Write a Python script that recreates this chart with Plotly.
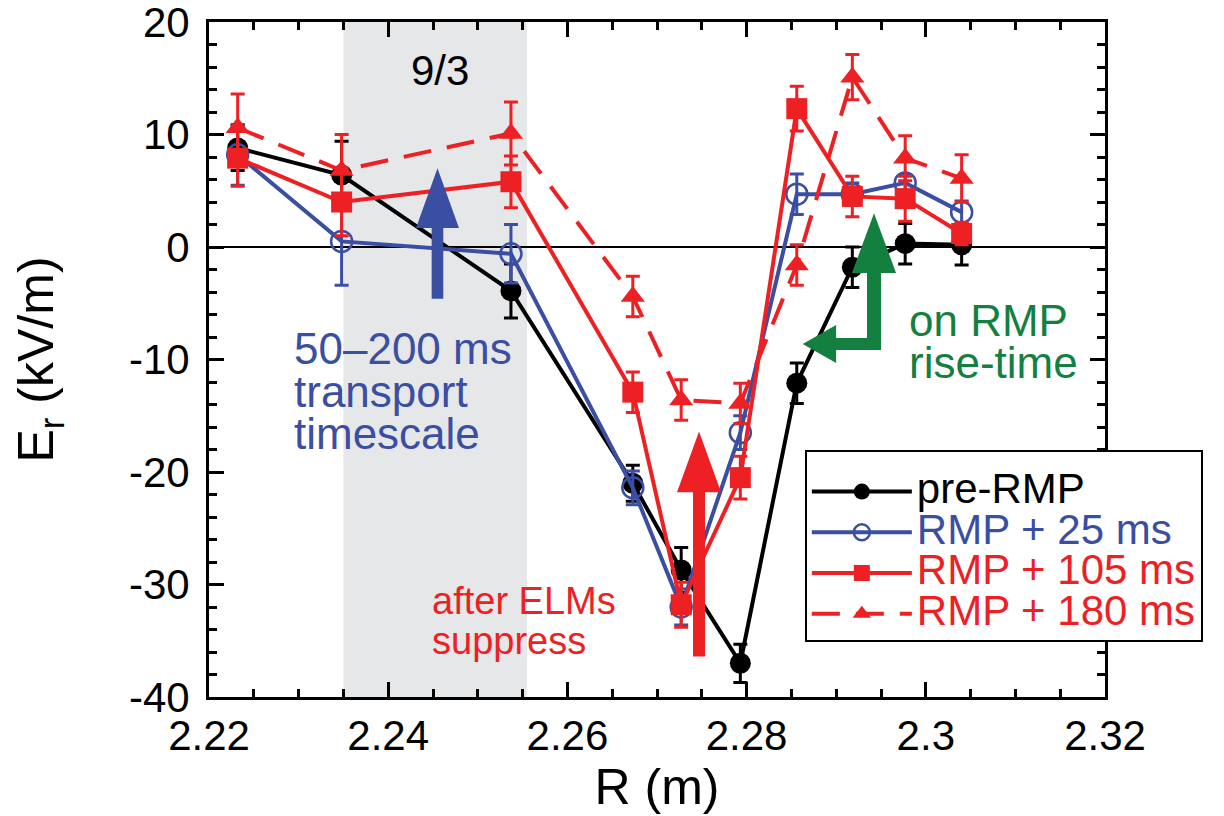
import plotly.graph_objects as go

# ---- data ----
R = [2.2232, 2.2348, 2.2537, 2.2673, 2.2727, 2.2793, 2.2856, 2.2918, 2.2977, 2.3040]
pre_rmp = [8.8, 6.4, -3.9, -21.0, -28.7, -37.0, -12.1, -1.8, 0.3, 0.2]
pre_rmp_err = [2.0, 3.0, 2.4, 1.6, 2.0, 1.7, 1.8, 1.8, 1.8, 1.8]
rmp_25 = [8.2, 0.5, -0.6, -21.4, -32.0, -16.5, 4.7, 4.7, 5.7, 3.1]
rmp_25_err = [2.7, 3.9, 2.6, 1.5, 1.6, 1.5, 1.8, 1.0, 0.7, 1.0]
rmp_105 = [7.9, 4.0, 5.8, -12.9, -31.8, -20.5, 12.3, 4.5, 4.3, 1.2]
rmp_105_err = [2.5, 3.0, 2.3, 1.8, 2.0, 1.9, 2.0, 1.8, 2.0, 1.0]
rmp_180 = [10.6, 6.8, 10.1, -4.4, -13.6, -13.9, -1.6, 15.1, 7.9, 6.1]
rmp_180_err = [3.0, 3.2, 2.8, 1.8, 1.8, 1.8, 1.8, 2.0, 2.0, 2.1]

x_ticks = [2.22, 2.24, 2.26, 2.28, 2.30, 2.32]
x_ticktext = ["2.22", "2.24", "2.26", "2.28", "2.3", "2.32"]
y_ticks = [-40, -30, -20, -10, 0, 10, 20]
y_ticktext = ["-40", "-30", "-20", "-10", "0", "10", "20"]

BLACK = "#000000"
BLUE = "#3a4ea2"
RED = "#ed2024"
GREEN = "#138040"
GRAY = "#e6e7e8"
FONT = "Liberation Sans, Arial, sans-serif"
LEG_SIZE = 42

fig = go.Figure()

def add_series(y, err, name, color, symbol, dash="solid", open_marker=False):
    marker = dict(symbol=symbol, size=21, color=color, line=dict(width=0, color=color))
    if open_marker:
        marker = dict(symbol="circle-open", size=21, color=color, line=dict(width=2.5, color=color))
    fig.add_trace(go.Scatter(
        x=R, y=y, mode="lines+markers",
        name=f'<span style="color:{color};font-size:{LEG_SIZE}px">{name}</span>',
        line=dict(color=color, width=4, dash=dash),
        marker=marker,
        error_y=dict(type="data", array=err, visible=True, color=color, thickness=3, width=7),
    ))

add_series(pre_rmp, pre_rmp_err, "pre-RMP", BLACK, "circle")
add_series(rmp_25, rmp_25_err, "RMP + 25 ms", BLUE, "circle-open", open_marker=True)
add_series(rmp_105, rmp_105_err, "RMP + 105 ms", RED, "square")
add_series(rmp_180, rmp_180_err, "RMP + 180 ms", RED, "triangle-up", dash="28px,16px")

# shaded 9/3 region
fig.add_shape(type="rect", xref="x", yref="paper", x0=2.235, x1=2.2555, y0=0, y1=1,
              fillcolor=GRAY, line=dict(width=0), layer="below")

def up_arrow(xc, tip, base, bottom, hw, sw, color):
    p = (f"M{xc},{tip} L{xc+hw},{base} L{xc+sw},{base} L{xc+sw},{bottom} "
         f"L{xc-sw},{bottom} L{xc-sw},{base} L{xc-hw},{base} Z")
    fig.add_shape(type="path", path=p, xref="x", yref="y", fillcolor=color, line=dict(width=0))

up_arrow(2.2455, 7.0, 1.7, -4.6, 0.0024, 0.00065, BLUE)
up_arrow(2.27469, -16.4, -21.8, -36.4, 0.00246, 0.00067, RED)

# green L-shaped arrow
gx, gsw, ghw = 2.29422, 0.00078, 0.00246
hy, hth, hbase, htip, hhh = -8.62, 0.53, 2.28999, 2.28626, 1.69
gp = (f"M{gx},3.0 L{gx+ghw},-2.3 L{gx+gsw},-2.3 L{gx+gsw},{hy-hth} "
      f"L{hbase},{hy-hth} L{hbase},{hy-hhh} L{htip},{hy} L{hbase},{hy+hhh} "
      f"L{hbase},{hy+hth} L{gx-gsw},{hy+hth} L{gx-gsw},-2.3 L{gx-ghw},-2.3 Z")
fig.add_shape(type="path", path=gp, xref="x", yref="y", fillcolor=GREEN, line=dict(width=0))

def label(x, y, text, color, size, anchor="left"):
    fig.add_annotation(x=x, y=y, xref="x", yref="y", text=text, showarrow=False,
                       xanchor=anchor, yanchor="middle",
                       font=dict(family=FONT, size=size, color=color))

label(2.2458, 15.7, "9/3", BLACK, 42, "center")
label(2.2293, -8.98, "50–200 ms", BLUE, 44)
label(2.2293, -12.8, "transport", BLUE, 44)
label(2.2293, -16.6, "timescale", BLUE, 44)
label(2.24467, -31.5, "after ELMs", RED, 38)
label(2.24467, -35.0, "suppress", RED, 38)
label(2.2979, -6.5, "on RMP", GREEN, 44)
label(2.2979, -10.3, "rise-time", GREEN, 44)

axis_common = dict(
    showline=True, linecolor="black", linewidth=3, mirror="ticks",
    ticks="inside", ticklen=15, tickwidth=2.5, tickcolor="black",
    showgrid=False, tickfont=dict(family=FONT, size=42, color="black"),
    automargin=False, ticklabeloverflow="allow",
)

fig.update_xaxes(range=[2.22, 2.32], tickvals=x_ticks, ticktext=x_ticktext,
                 minor=dict(dtick=0.005, tick0=2.22, ticks="inside", ticklen=8, tickwidth=2.5, tickcolor="black", showgrid=False),
                 zeroline=False,
                 title=dict(text="R (m)", font=dict(family=FONT, size=50, color="black"), standoff=6),
                 **axis_common)
fig.update_yaxes(range=[-40, 20], tickvals=y_ticks, ticktext=y_ticktext,
                 minor=dict(dtick=2, tick0=0, ticks="inside", ticklen=8, tickwidth=2.5, tickcolor="black", showgrid=False),
                 zeroline=True, zerolinecolor="black", zerolinewidth=2,
                 ticklabelstandoff=8,
                 title=dict(text="E<sub>r</sub> (kV/m)", font=dict(family=FONT, size=50, color="black"), standoff=62),
                 **axis_common)

fig.update_layout(
    width=1224, height=816,
    margin=dict(l=201, r=127, t=14, b=127),
    paper_bgcolor="white", plot_bgcolor="white",
    font=dict(family=FONT, color="black"),
    showlegend=True,
    legend=dict(x=0.665, y=0.366, xanchor="left", yanchor="top",
                bgcolor="white", bordercolor="black", borderwidth=2,
                font=dict(family=FONT, size=29, color="black"),
                title=dict(text=" ", font=dict(family=FONT, size=11)),
                itemwidth=100, tracegroupgap=0),
)

fig.write_html("out.html")
